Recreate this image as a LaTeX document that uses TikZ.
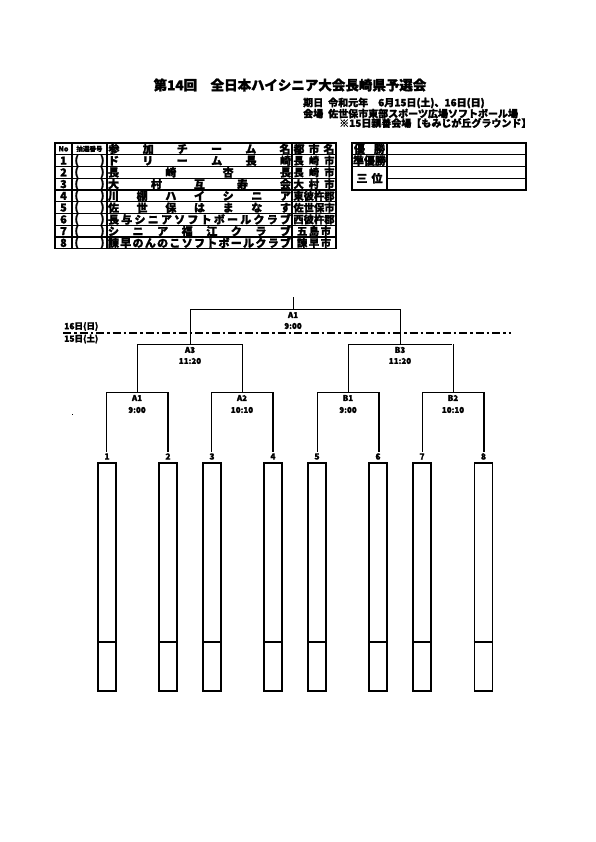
\documentclass[tikz,border=0pt]{standalone}
\usepackage{fontspec}
\setmainfont{Noto Sans CJK JP}[BoldFeatures={FakeBold=1.5}]
\newcommand\rowh{11.75}
\tikzset{
  tline/.style={line width=1.2pt},
  brk/.style={line width=1pt},
  brkv/.style={line width=1.4pt},
  pbox/.style={draw,line width=1.7pt,minimum width=18pt,minimum height=228pt,inner sep=0pt},
  lbl/.style={inner sep=0pt,font=\bfseries\fontsize{8}{8}\selectfont},
  cell/.style={inner sep=0pt,font=\bfseries\fontsize{11}{11}\selectfont},
  info/.style={inner sep=0pt,anchor=west,font=\bfseries\fontsize{10}{10}\selectfont}
}
\begin{document}
\begin{tikzpicture}[x=1pt,y=-1pt]
\useasboundingbox[fill=white] (0,0) rectangle (595,842);
% title
\node[inner sep=0pt,font=\bfseries\fontsize{13.5}{13.5}\selectfont] (title) at (290,85) {第14回　全日本ハイシニア大会長崎県予選会};
\node[info] (d1) at (303,103) {期日\hspace{5pt}令和元年　6月15日(土)、16日(日)};
\node[info] (d2) at (303,113.5) {会場\hspace{5pt}佐世保市東部スポーツ広場ソフトボール場};
\begin{scope}
\clip (300,115) rectangle (527.5,130);
\node[info] (d3) at (339,123) {※15日親善会場【もみじが丘グラウンド】};
\end{scope}
% left table
\draw[line width=1.4pt] (55,143) rectangle (336,{143+9*\rowh});
\foreach \i in {1,...,8} \draw[tline] (55,{143+\i*\rowh}) -- (336,{143+\i*\rowh});
\foreach \x in {72,107,292} \draw[tline] (\x,143) -- (\x,{143+9*\rowh});
\node[cell,font=\bfseries\fontsize{7}{7}\selectfont] (hno) at (63.5,{143+0.5*\rowh}) {No};
\node[cell,font=\bfseries\fontsize{6.5}{6.5}\selectfont] (hlot) at (89.5,{143+0.5*\rowh}) {抽選番号};
\node[cell] (hname) at (199.5,{143+0.5*\rowh}) {\makebox[182pt]{参\hfill 加\hfill チ\hfill ー\hfill ム\hfill 名}};
\node[cell] (hcity) at (314,{143+0.5*\rowh}) {\makebox[41pt]{都\hfill 市\hfill 名}};
\foreach \i/\nm/\ct in {
 1/{ド\hfill リ\hfill ー\hfill ム\hfill 長\hfill 崎}/{長\hfill 崎\hfill 市},
 2/{長\hfill 崎\hfill 杏\hfill 長}/{長\hfill 崎\hfill 市},
 3/{大\hfill 村\hfill 互\hfill 寿\hfill 会}/{大\hfill 村\hfill 市},
 4/{川\hfill 棚\hfill ハ\hfill イ\hfill シ\hfill ニ\hfill ア}/{東彼杵郡},
 5/{佐\hfill 世\hfill 保\hfill は\hfill ま\hfill な\hfill す}/{佐世保市},
 6/{長\hfill 与\hfill シ\hfill ニ\hfill ア\hfill ソ\hfill フ\hfill ト\hfill ボ\hfill ー\hfill ル\hfill ク\hfill ラ\hfill ブ}/{西彼杵郡},
 7/{シ\hfill ニ\hfill ア\hfill 福\hfill 江\hfill ク\hfill ラ\hfill ブ}/{\makebox[34pt]{五\hfill 島\hfill 市}},
 8/{諫\hfill 早\hfill の\hfill ん\hfill の\hfill こ\hfill ソ\hfill フ\hfill ト\hfill ボ\hfill ー\hfill ル\hfill ク\hfill ラ\hfill ブ}/{\makebox[34pt]{諫\hfill 早\hfill 市}}} {
  \node[cell] (no\i) at (63.5,{143+(\i+0.5)*\rowh}) {\i};
  \node[cell] (lot\i) at (89.5,{143+(\i+0.5)*\rowh}) {\makebox[30pt]{(\hfill )}};
  \node[cell] (nm\i) at (199.5,{143+(\i+0.5)*\rowh}) {\makebox[183pt]{\nm}};
  \node[cell,font=\bfseries\fontsize{10.3}{10.3}\selectfont] (ct\i) at (314,{143+(\i+0.5)*\rowh}) {\makebox[41pt]{\ct}};
}
% right table
\draw[line width=1.4pt] (352,143) rectangle (526,{143+4*\rowh});
\draw[tline] (352,{143+\rowh}) -- (526,{143+\rowh});
\draw[tline] (352,{143+2*\rowh}) -- (526,{143+2*\rowh});
\draw[tline] (387,{143+3*\rowh}) -- (526,{143+3*\rowh});
\draw[tline] (387,143) -- (387,{143+4*\rowh});
\node[cell] (win1) at (369.5,{143+0.5*\rowh}) {\makebox[31pt]{優\hfill 勝}};
\node[cell] (win2) at (369.5,{143+1.5*\rowh}) {\makebox[31pt]{準\hfill 優\hfill 勝}};
\node[cell] (win3) at (369.5,{143+3*\rowh}) {\makebox[26pt]{三\hfill 位}};
% day separator
\draw[line width=1.6pt,dash pattern=on 8pt off 3pt on 2.5pt off 3pt] (63,333) -- (511,333);
\node[lbl,anchor=west,font=\bfseries\fontsize{8.5}{8.5}\selectfont] (day16) at (64,326.5) {16日(日)};
\node[lbl,anchor=west,font=\bfseries\fontsize{8.5}{8.5}\selectfont] (day15) at (64,339) {15日(土)};
% final
\coordinate (top) at (293,297);
\coordinate (fin) at (293,309);
\draw[brk] (top) -- (fin);
\coordinate (fl) at (190,309);
\coordinate (fr) at (400,309);
\draw[brk] (fl) -- (fr);
\node[lbl] (fA1) at (293,315) {A1};
\node[lbl] (fT) at (293,326) {9:00};
% semifinals
\coordinate (sAl) at (137,344); \coordinate (sAr) at (242,344);
\coordinate (sBl) at (348,344); \coordinate (sBr) at (452,344);
\draw[brk] (fl) -- (190,344);
\draw[brk] (fr) -- (400,344);
\draw[brk] (sAl) -- (sAr);
\draw[brk] (sBl) -- (sBr);
\node[lbl] (sA) at (190,350) {A3};
\node[lbl] (sAt) at (190,361) {11:20};
\node[lbl] (sB) at (400,350) {B3};
\node[lbl] (sBt) at (400,361) {11:20};
% first round
\foreach \c/\l/\r/\g/\t in {137/106/168/A1/9:00, 242/211/273/A2/10:10, 348/317/379/B1/9:00, 453/422/484/B2/10:10} {
  \draw[brk] (\c,344) -- (\c,392);
  \draw[brk] (\l,392) -- (\r,392);
  \draw[line width=1pt] (\l,392) -- (\l,452);
  \draw[brkv] (\r,392) -- (\r,452);
  \node[lbl] (g\g) at (\c,398) {\g};
  \node[lbl] (t\g) at (\c,410) {\t};
}
% players
\foreach \i/\x in {1/107,2/168,3/212,4/273,5/317,6/378,7/422,8/483.5} {
  \node[lbl,font=\bfseries\fontsize{8.5}{8.5}\selectfont] (n\i) at (\x,456.5) {\i};
  \node[pbox,anchor=north] (b\i) at (\x,462) {};
  \draw[line width=1.5pt] ([yshift=-180pt]b\i.north west) -- ([yshift=-180pt]b\i.north east);
}
\fill (71.5,414) rectangle (72.7,415.2);
\end{tikzpicture}
\end{document}
